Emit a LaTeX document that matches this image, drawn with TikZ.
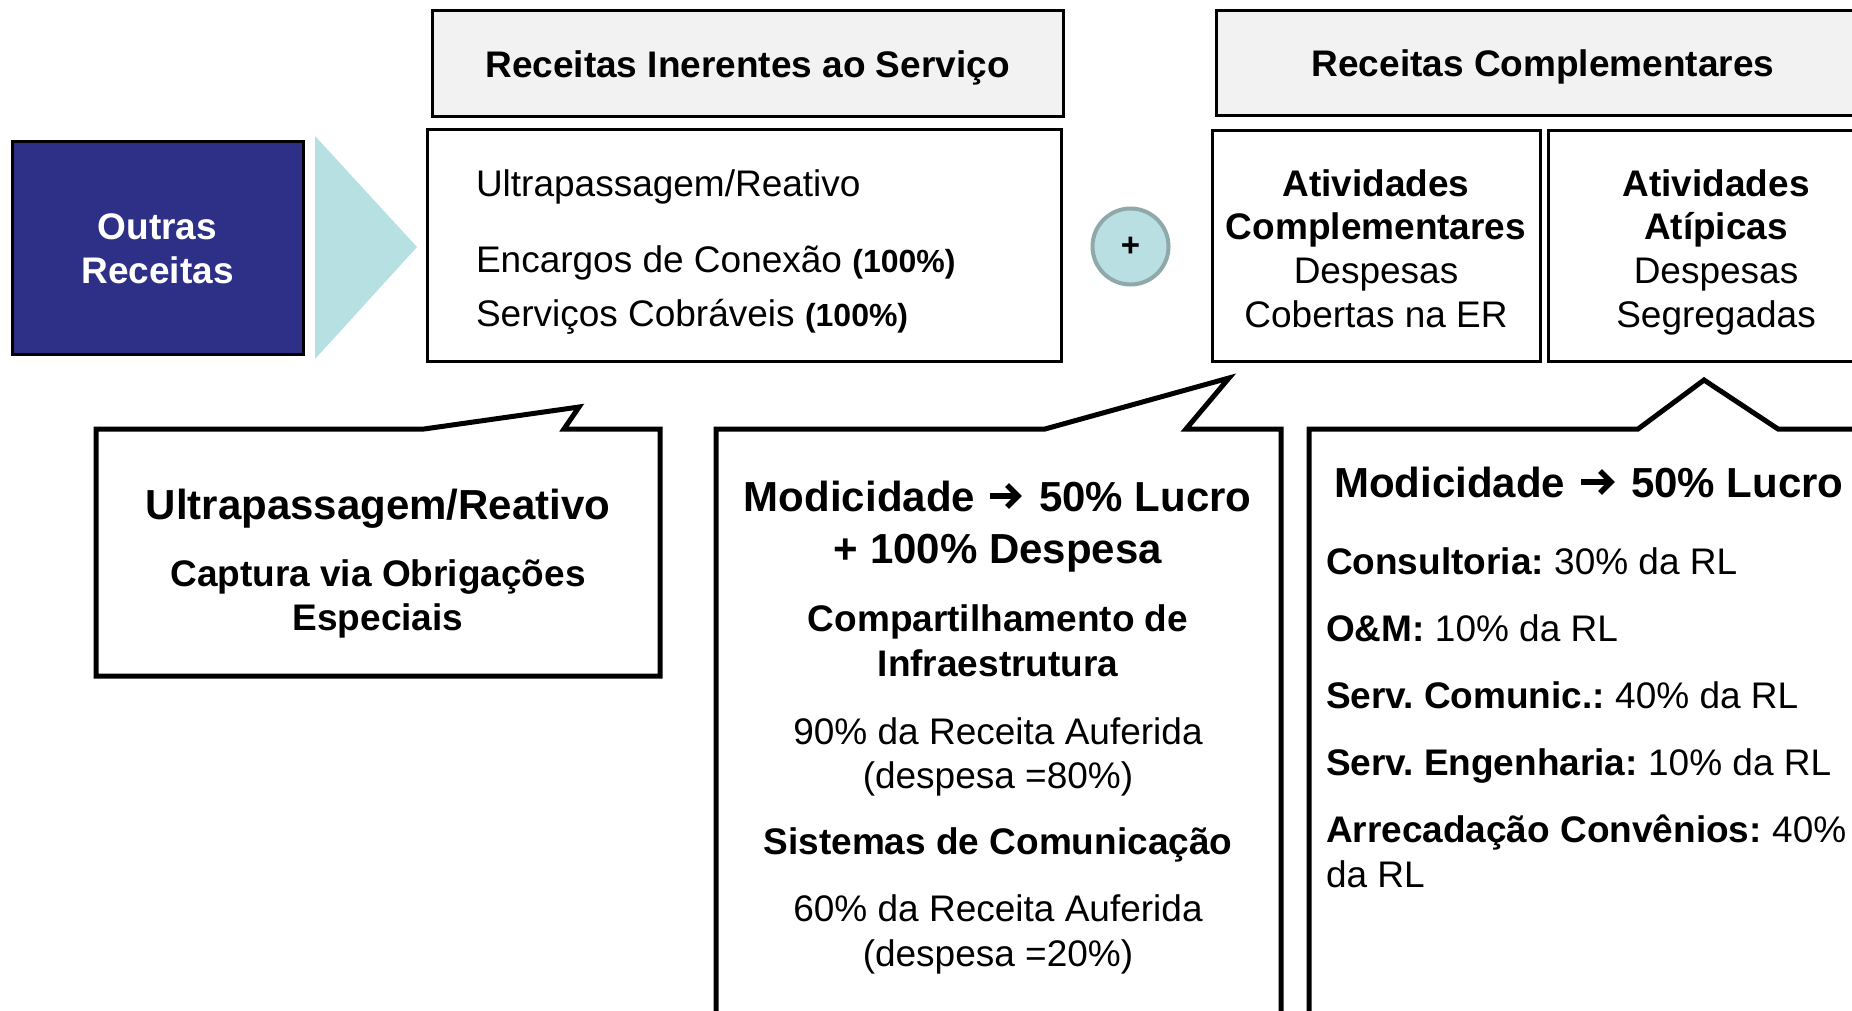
\documentclass[tikz,border=0pt]{standalone}
\usepackage{fontspec}
\setmainfont{Liberation Sans}
\frenchspacing
\definecolor{hdrgray}{HTML}{F2F2F2}
\definecolor{navy}{HTML}{2E3088}
\definecolor{tricol}{HTML}{B7E0E2}
\definecolor{circfill}{HTML}{B9DFE3}
\definecolor{circline}{HTML}{8FA9AB}
\begin{document}
\begin{tikzpicture}[x=1pt,y=-1pt,
  txt/.style={inner sep=0pt, outer sep=0pt, font=\fontsize{37}{44}\selectfont},
  txtb/.style={inner sep=0pt, outer sep=0pt, font=\fontsize{37}{44}\selectfont\bfseries},
  txtbig/.style={inner sep=0pt, outer sep=0pt, font=\fontsize{42}{50}\selectfont\bfseries},
  boxx/.style={draw=black, line width=3pt, inner sep=0pt, outer sep=0pt, rectangle},
  hdr/.style={boxx, fill=hdrgray},
  callout/.style={draw=black, line width=5pt, fill=white, miter limit=20},
  wing/.style={draw=black, line width=5.5pt, line cap=butt, miter limit=10},
]
\useasboundingbox (0,0) rectangle (1852,1010);
\clip (0,0) rectangle (1852,1010);
\fill[white] (0,0) rectangle (1852,1010);

% left block
\node[boxx, fill=navy, minimum width=291pt, minimum height=213pt] (outras) at (157.5,248) {};
\node[txtb, text=white, anchor=base] (outrasA) at (157.5,239) {Outras};
\node[txtb, text=white, anchor=base] (outrasB) at (157.5,283) {Receitas};
\fill[tricol] (315,136) -- (417,247) -- (315,359) -- cycle;

% inherent revenues
\node[hdr, minimum width=631pt, minimum height=106pt] (hdrA) at (747.5,63) {};
\node[txtb, anchor=base] (hdrAt) at (747.5,77) {Receitas Inerentes ao Serviço};
\node[boxx, minimum width=634pt, minimum height=232pt] (contA) at (744,245) {};
\node[txt, anchor=base west] (contA1) at (476,196) {Ultrapassagem/Reativo};
\node[txt, anchor=base west] (contA2) at (476,272) {Encargos de Conexão {\fontsize{32}{38}\selectfont\bfseries (100\%)}};
\node[txt, anchor=base west] (contA3) at (476,326) {Serviços Cobráveis {\fontsize{32}{38}\selectfont\bfseries (100\%)}};

% plus
\node[circle, draw=circline, fill=circfill, line width=4pt, minimum size=76pt, inner sep=0pt,
      font=\fontsize{33}{36}\selectfont\bfseries] (plus) at (1130.5,246.5) {+};

% complementary revenues
\node[hdr, minimum width=654pt, minimum height=105pt] (hdrB) at (1543,62.5) {};
\node[txtb, anchor=base] (hdrBt) at (1543,76) {Receitas Complementares};
\node[boxx, minimum width=328pt, minimum height=231pt] (actA) at (1376,245.5) {};
\node[txtb, anchor=base] (actA1) at (1376,196) {Atividades};
\node[txtb, anchor=base] (actA2) at (1376,239) {Complementares};
\node[txt, anchor=base] (actA3) at (1376,283) {Despesas};
\node[txt, anchor=base] (actA4) at (1376,327) {Cobertas na ER};
\node[boxx, minimum width=336pt, minimum height=231pt] (actB) at (1716,245.5) {};
\node[txtb, anchor=base] (actB1) at (1716,196) {Atividades};
\node[txtb, anchor=base] (actB2) at (1716,239) {Atípicas};
\node[txt, anchor=base] (actB3) at (1716,283) {Despesas};
\node[txt, anchor=base] (actB4) at (1716,327) {Segregadas};

% callout 1
\draw[callout] (96,429) -- (424,429) -- (579,407) -- (564,429) -- (660,429) -- (660,676) -- (96,676) -- cycle;
\node[txtbig, anchor=base] (c1a) at (378,519) {Ultrapassagem/Reativo};
\node[txtb, anchor=base] (c1b) at (378,586) {Captura via Obrigações};
\node[txtb, anchor=base] (c1c) at (378,630) {Especiais};

% callout 2
\draw[callout] (716,429) -- (1045,429) -- (1229,378) -- (1186,429) -- (1281,429) -- (1281,1040) -- (716,1040) -- cycle;
\node[txtbig, anchor=base east] (c2a1) at (975,511) {Modicidade};
\node[txtbig, anchor=base west] (c2a2) at (1039,511) {50\% Lucro};
\coordinate (c2arr) at ([shift={(15,-15)}]c2a1.base east);
\draw[wing] (c2arr) -- ([shift={(28,0)}]c2arr);
\draw[wing] ([shift={(17,-11)}]c2arr) -- ([shift={(28,0)}]c2arr) -- ([shift={(17,11)}]c2arr);
\node[txtbig, anchor=base] (c2b) at (998,563) {+ 100\% Despesa};
\node[txtb, anchor=base] (c2c) at (998,631) {Compartilhamento de};
\node[txtb, anchor=base] (c2d) at (998,676) {Infraestrutura};
\node[txt, anchor=base] (c2e) at (998,744) {90\% da Receita Auferida};
\node[txt, anchor=base] (c2f) at (998,788) {(despesa =80\%)};
\node[txtb, anchor=base] (c2g) at (998,854) {Sistemas de Comunicação};
\node[txt, anchor=base] (c2h) at (998,921) {60\% da Receita Auferida};
\node[txt, anchor=base] (c2i) at (998,966) {(despesa =20\%)};

% callout 3
\draw[callout] (1309,429) -- (1638,429) -- (1704,380) -- (1778,429) -- (1890,429) -- (1890,1040) -- (1309,1040) -- cycle;
\node[txtbig, anchor=base west] (c3a1) at (1334,497) {Modicidade};
\node[txtbig, anchor=base west] (c3a2) at ([shift={(66,0)}]c3a1.base east) {50\% Lucro};
\coordinate (c3arr) at ([shift={(16,-15)}]c3a1.base east);
\draw[wing] (c3arr) -- ([shift={(30,0)}]c3arr);
\draw[wing] ([shift={(19,-11)}]c3arr) -- ([shift={(30,0)}]c3arr) -- ([shift={(19,11)}]c3arr);
\node[txt, anchor=base west] (c3b) at (1326,574) {\textbf{Consultoria:} 30\% da RL};
\node[txt, anchor=base west] (c3c) at (1326,641) {\textbf{O\&M:} 10\% da RL};
\node[txt, anchor=base west] (c3d) at (1326,708) {\textbf{Serv. Comunic.:} 40\% da RL};
\node[txt, anchor=base west] (c3e) at (1326,775) {\textbf{Serv. Engenharia:} 10\% da RL};
\node[txt, anchor=base west] (c3f) at (1326,842) {\textbf{Arrecadação Convênios:} 40\%};
\node[txt, anchor=base west] (c3g) at (1326,887) {da RL};
\end{tikzpicture}
\end{document}
